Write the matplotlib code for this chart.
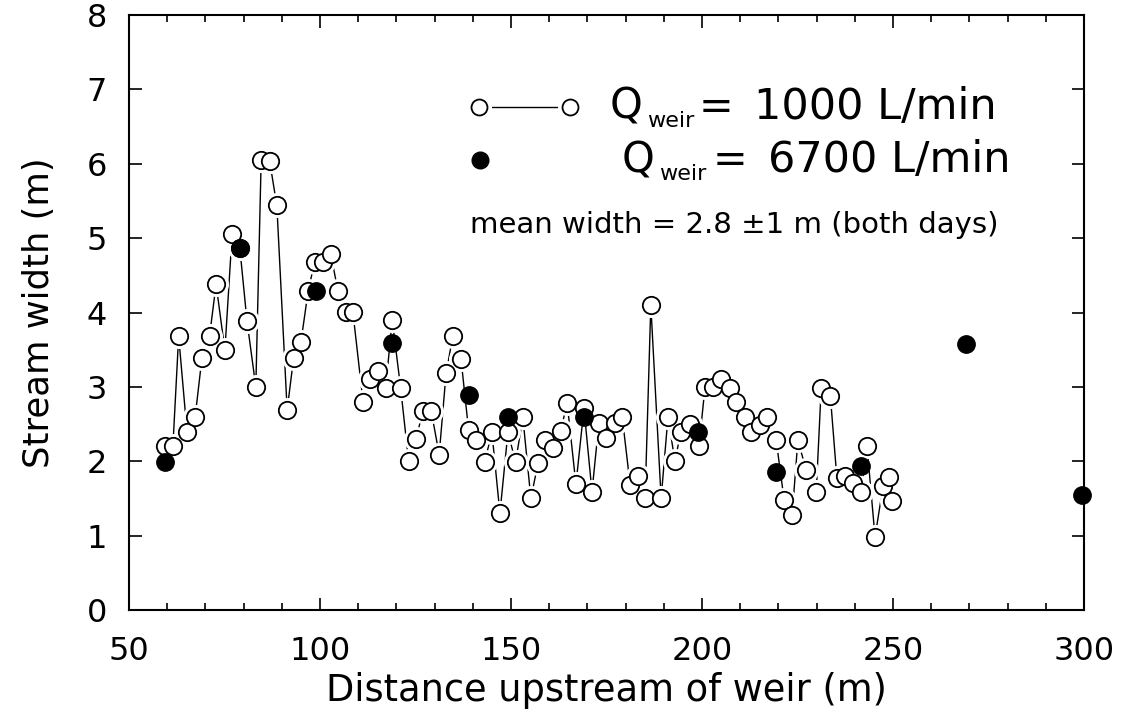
import numpy as np
import matplotlib
matplotlib.use("Agg")
import matplotlib.pyplot as plt
from matplotlib.ticker import MultipleLocator

# stream width at 1000 L/min (open circles, joined)
dist_low = [59.3, 61.5, 63.0, 65.2, 67.3, 69.1, 71.1, 72.8, 75.1, 77.0,
            79.0, 80.9, 83.2, 84.6, 86.8, 88.7, 91.4, 93.1, 95.0, 96.9,
            98.6, 100.8, 102.8, 104.7, 106.8, 108.6, 111.3, 113.0, 115.2, 117.2,
            118.9, 121.1, 123.2, 125.1, 127.0, 129.1, 131.2, 133.0, 134.8, 136.9,
            138.9, 140.8, 143.1, 145.0, 147.1, 149.2, 151.2, 153.1, 155.2, 157.1,
            158.9, 161.0, 163.0, 164.7, 167.0, 169.1, 171.2, 173.0, 174.9, 177.2,
            179.1, 181.2, 183.2, 185.1, 186.6, 189.3, 191.1, 192.9, 194.5, 196.9,
            199.2, 200.8, 202.9, 205.0, 207.3, 208.9, 211.3, 212.8, 215.2, 217.0,
            219.4, 221.5, 223.6, 225.1, 227.3, 229.9, 231.2, 233.6, 235.3, 237.4,
            239.5, 241.6, 243.2, 245.3, 247.4, 249.0, 249.8]
width_low = [2.21, 2.21, 3.68, 2.39, 2.59, 3.39, 3.69, 4.38, 3.49, 5.06,
             4.87, 3.88, 3.00, 6.05, 6.04, 5.44, 2.69, 3.39, 3.60, 4.29,
             4.68, 4.68, 4.79, 4.29, 4.01, 4.01, 2.79, 3.10, 3.21, 2.99,
             3.90, 2.99, 2.00, 2.30, 2.68, 2.68, 2.09, 3.18, 3.69, 3.38,
             2.42, 2.29, 1.99, 2.39, 1.30, 2.39, 1.99, 2.59, 1.50, 1.98,
             2.28, 2.18, 2.41, 2.78, 1.69, 2.71, 1.59, 2.51, 2.31, 2.51,
             2.60, 1.68, 1.80, 1.50, 4.10, 1.50, 2.60, 2.00, 2.40, 2.50,
             2.20, 3.00, 3.00, 3.11, 2.99, 2.79, 2.59, 2.39, 2.49, 2.59,
             2.29, 1.48, 1.28, 2.28, 1.88, 1.58, 2.98, 2.88, 1.78, 1.80,
             1.71, 1.58, 2.20, 0.98, 1.67, 1.79, 1.47]

# stream width at 6700 L/min (filled circles)
dist_high = [59.3, 79.0, 99.0, 118.9, 138.9, 149.2, 169.1, 198.9, 219.4, 241.6, 269.1, 299.5]
width_high = [1.99, 4.87, 4.29, 3.59, 2.89, 2.59, 2.59, 2.40, 1.85, 1.93, 3.58, 1.55]

W, H = 1123, 727
fig = plt.figure(figsize=(W / 100, H / 100), dpi=100)
ax = fig.add_axes([129 / W, 1 - 610 / H, (1084 - 129) / W, (610 - 15) / H])

# line first, white halo so the line stops short of the circles
ax.plot(dist_low, width_low, color="black", lw=1.0, zorder=1)
ax.plot(dist_low, width_low, ls="none", marker="o", ms=17, mfc="white", mec="white", zorder=2)
ax.plot(dist_low, width_low, ls="none", marker="o", ms=12.5, mfc="white", mec="black", mew=1.3, zorder=3)
ax.plot(dist_high, width_high, ls="none", marker="o", ms=12.5, mfc="black", mec="black", zorder=4,
        clip_on=False)

ax.set_xlim(50, 300)
ax.set_ylim(0, 8)
ax.xaxis.set_major_locator(MultipleLocator(50))
ax.xaxis.set_minor_locator(MultipleLocator(10))
ax.yaxis.set_major_locator(MultipleLocator(1))
ax.tick_params(which="both", direction="in", top=True, right=True, width=1.2)
ax.tick_params(which="major", length=9, labelsize=23)
ax.tick_params(axis="x", which="major", pad=19)
ax.tick_params(axis="y", which="major", pad=16)
ax.tick_params(which="minor", length=5)
for s in ax.spines.values():
    s.set_linewidth(1.5)

ax.set_xlabel("Distance upstream of weir (m)", fontsize=26.5, labelpad=3)
ax.set_ylabel("Stream width (m)", fontsize=25.5, labelpad=22)

# legend drawn by hand, like the original
def px(x, y):
    return x / W, 1 - y / H

fig.add_artist(plt.Line2D([479 / W, 570 / W], [1 - 107 / H] * 2, color="black", lw=1.0))
fig.add_artist(plt.Line2D([479 / W, 570 / W], [1 - 107 / H] * 2, ls="none", marker="o", ms=17,
                          mfc="white", mec="white"))
fig.add_artist(plt.Line2D([479 / W, 570 / W], [1 - 107 / H] * 2, ls="none", marker="o", ms=11.5,
                          mfc="white", mec="black", mew=1.3))
fig.add_artist(plt.Line2D([480 / W], [1 - 160 / H], ls="none", marker="o", ms=12,
                          mfc="black", mec="black"))

fig.text(*px(610, 107), "Q", fontsize=30, va="center", ha="left")
fig.text(*px(647, 121), "weir", fontsize=16, va="center", ha="left")
fig.text(*px(699, 107), "=", fontsize=30, va="center", ha="left")
fig.text(*px(754, 107), "1000 L/min", fontsize=31, va="center", ha="left")
fig.text(*px(622, 160), "Q", fontsize=30, va="center", ha="left")
fig.text(*px(659, 174), "weir", fontsize=16, va="center", ha="left")
fig.text(*px(713, 160), "=", fontsize=30, va="center", ha="left")
fig.text(*px(768, 160), "6700 L/min", fontsize=31, va="center", ha="left")
fig.text(*px(470, 225), "mean width = 2.8 \u00b11 m (both days)", fontsize=21, va="center", ha="left")

fig.savefig("out.png", dpi=100)
